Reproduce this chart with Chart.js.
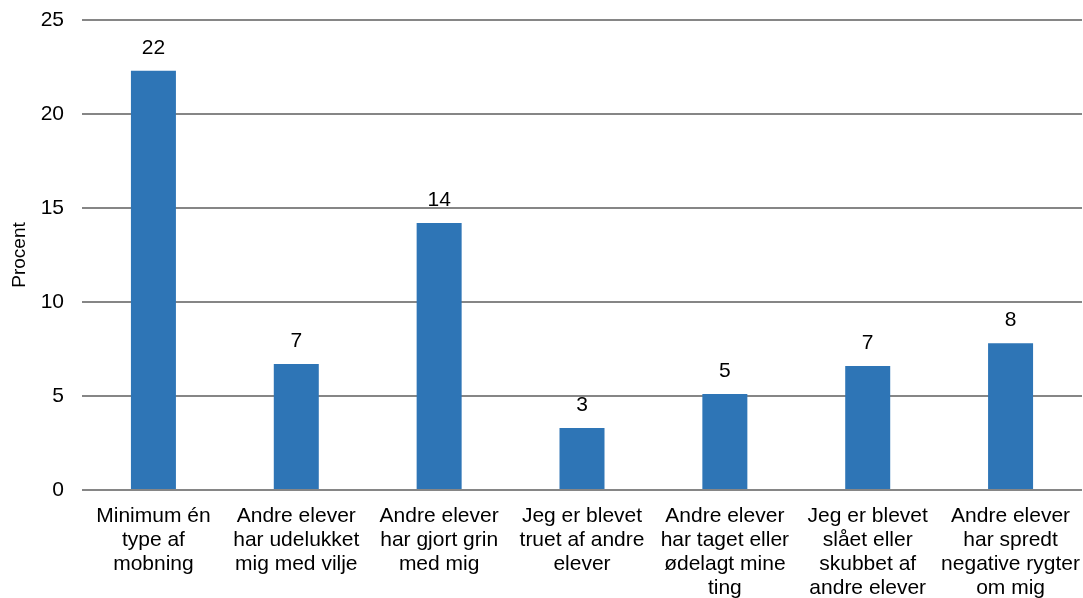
<!DOCTYPE html>
<html>
<head>
<meta charset="utf-8">
<script src="https://cdn.jsdelivr.net/npm/chart.js@4"></script>
<style>
  html, body { margin: 0; padding: 0; background: #fff; }
  #wrap { width: 1083px; height: 598px; }
</style>
</head>
<body>
<div id="wrap"><canvas id="mobningChart" width="1083" height="598"></canvas></div>
<script>
// categories (wrapped as in the original)
var categories = [
  ['Minimum én', 'type af', 'mobning'],
  ['Andre elever', 'har udelukket', 'mig med vilje'],
  ['Andre elever', 'har gjort grin', 'med mig'],
  ['Jeg er blevet', 'truet af andre', 'elever'],
  ['Andre elever', 'har taget eller', 'ødelagt mine', 'ting'],
  ['Jeg er blevet', 'slået eller', 'skubbet af', 'andre elever'],
  ['Andre elever', 'har spredt', 'negative rygter', 'om mig']
];
var procent = [22.3, 6.7, 14.2, 3.3, 5.1, 6.6, 7.8];
var yTicks = [0, 5, 10, 15, 20, 25];

var fontFamily = 'Arial, "Liberation Sans", sans-serif';

// value labels above the bars (rounded)
var barLabels = {
  id: 'barLabels',
  afterDatasetsDraw: function (chart) {
    var ctx = chart.ctx;
    var meta = chart.getDatasetMeta(0);
    ctx.save();
    ctx.font = '21px ' + fontFamily;
    ctx.fillStyle = '#000';
    ctx.textAlign = 'center';
    ctx.textBaseline = 'alphabetic';
    meta.data.forEach(function (bar, i) {
      ctx.fillText(Math.round(procent[i]), bar.x, bar.y - 17);
    });
    ctx.restore();
  }
};

var ctx = document.getElementById('mobningChart').getContext('2d');
var chart = new Chart(ctx, {
  type: 'bar',
  data: {
    labels: categories,
    datasets: [{
      label: 'Procent',
      data: procent,
      backgroundColor: '#2E75B6',
      categoryPercentage: 1,
      barPercentage: 0.315
    }]
  },
  options: {
    responsive: false,
    animation: false,
    layout: { padding: { top: 20, right: 1, left: 0, bottom: 0 } },
    plugins: {
      legend: { display: false },
      tooltip: { enabled: false }
    },
    scales: {
      x: {
        grid: { display: false, drawTicks: false },
        border: { display: false },
        ticks: {
          color: '#000',
          font: { family: fontFamily, size: 21, lineHeight: 1.143 },
          padding: 14,
          autoSkip: false,
          maxRotation: 0,
          minRotation: 0
        },
        afterFit: function (scale) {
          scale.height = 108;
          scale.paddingLeft = 0;
          scale.paddingRight = 0;
        }
      },
      y: {
        min: 0,
        max: 25,
        afterBuildTicks: function (scale) {
          scale.ticks = yTicks.map(function (v) { return { value: v }; });
        },
        grid: { color: '#868686', lineWidth: 2, drawTicks: false },
        border: { display: false },
        ticks: {
          color: '#000',
          font: { family: fontFamily, size: 21 },
          padding: 18
        },
        title: {
          display: true,
          text: 'Procent',
          color: '#000',
          font: { family: fontFamily, size: 19 },
          padding: { top: 8, bottom: 0 }
        },
        afterFit: function (scale) {
          scale.width = 82;
          scale.paddingTop = 0;
          scale.paddingBottom = 0;
        }
      }
    }
  },
  plugins: [barLabels]
});
</script>
</body>
</html>
